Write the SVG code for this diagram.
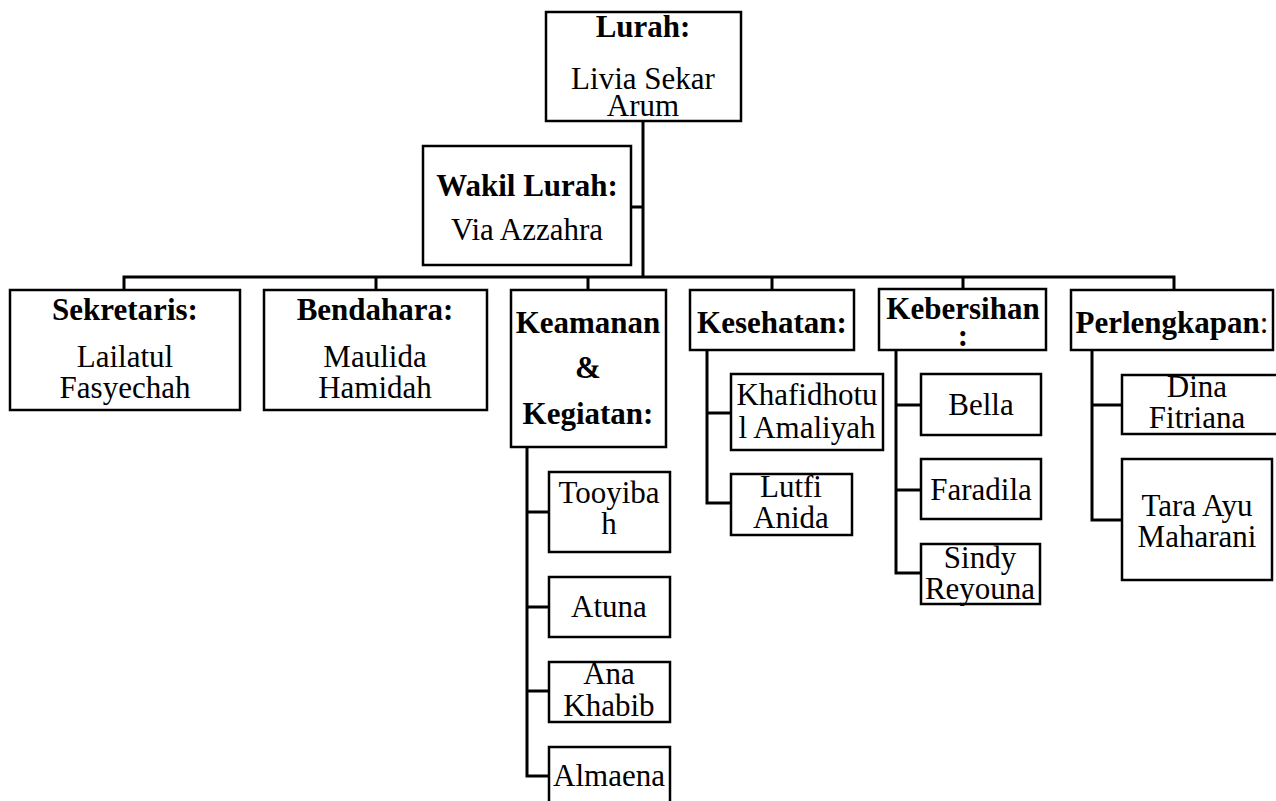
<svg xmlns="http://www.w3.org/2000/svg" width="1276" height="801" viewBox="0 0 1276 801">
<style>
.box{fill:#fff;stroke:#000;stroke-width:2.5}
.ln{fill:none;stroke:#000;stroke-width:3}
text{font-family:"Liberation Serif","Times New Roman",serif;font-size:31px;fill:#000;text-anchor:middle}
.b{font-weight:bold}
</style>
<rect width="1276" height="801" fill="#fff"/>
<g id="connectors">
<path class="ln" d="M643,121V277M631,207H643M124,290V277H1174V290M376,277V290M588,277V290M772,277V290M963,277V290"/>
<path class="ln" d="M527,447V776H549M527,512H549M527,607H549M527,691H549"/>
<path class="ln" d="M707,350V503H731M707,413H731"/>
<path class="ln" d="M896,350V573H921M896,405H921M896,490H921"/>
<path class="ln" d="M1092,350V520H1122M1092,405H1122"/>
</g>
<g id="lurah"><rect class="box" x="546" y="12" width="195" height="109"/>
<text class="b" x="643" y="37">Lurah:</text><text x="643" y="89">Livia Sekar</text><text x="643" y="116">Arum</text></g>
<g id="wakil"><rect class="box" x="423" y="146" width="208" height="119"/>
<text class="b" x="527" y="196">Wakil Lurah:</text><text x="527" y="240">Via Azzahra</text></g>
<g id="sekretaris"><rect class="box" x="10" y="290" width="230" height="120"/>
<text class="b" x="125" y="320">Sekretaris:</text><text x="125" y="367">Lailatul</text><text x="125" y="398">Fasyechah</text></g>
<g id="bendahara"><rect class="box" x="264" y="290" width="223" height="120"/>
<text class="b" x="375" y="320">Bendahara:</text><text x="375" y="367">Maulida</text><text x="375" y="398">Hamidah</text></g>
<g id="keamanan"><rect class="box" x="511" y="290" width="155" height="157"/>
<text class="b" x="588" y="333">Keamanan</text><text class="b" x="588" y="378">&amp;</text><text class="b" x="588" y="424">Kegiatan:</text></g>
<g id="kesehatan"><rect class="box" x="690" y="290" width="164" height="60"/>
<text class="b" x="772" y="333">Kesehatan:</text></g>
<g id="kebersihan"><rect class="box" x="879" y="289" width="167" height="61"/>
<text class="b" x="963" y="319">Kebersihan</text><text class="b" x="963" y="346">:</text></g>
<g id="perlengkapan"><rect class="box" x="1071" y="290" width="202" height="60"/>
<text x="1172" y="333"><tspan class="b">Perlengkapan</tspan>:</text></g>
<g id="khafidhotul"><rect class="box" x="731" y="374" width="152" height="76"/>
<text x="807" y="405">Khafidhotu</text><text x="807" y="438">l Amaliyah</text></g>
<g id="lutfi"><rect class="box" x="731" y="474" width="121" height="61"/>
<text x="791" y="497">Lutfi</text><text x="791" y="528">Anida</text></g>
<g id="bella"><rect class="box" x="921" y="374" width="120" height="61"/>
<text x="981" y="415">Bella</text></g>
<g id="faradila"><rect class="box" x="921" y="459" width="120" height="60"/>
<text x="981" y="500">Faradila</text></g>
<g id="sindy"><rect class="box" x="921" y="544" width="119" height="60"/>
<text x="980" y="568">Sindy</text><text x="980" y="599">Reyouna</text></g>
<g id="dina"><rect class="box" x="1122" y="375" width="170" height="59"/>
<text x="1197" y="397">Dina</text><text x="1197" y="428">Fitriana</text></g>
<g id="tara"><rect class="box" x="1122" y="459" width="150" height="121"/>
<text x="1197" y="516">Tara Ayu</text><text x="1197" y="547">Maharani</text></g>
<g id="tooyibah"><rect class="box" x="549" y="472" width="121" height="80"/>
<text x="609" y="503">Tooyiba</text><text x="609" y="534">h</text></g>
<g id="atuna"><rect class="box" x="549" y="577" width="121" height="60"/>
<text x="609" y="617">Atuna</text></g>
<g id="anakhabib"><rect class="box" x="549" y="662" width="121" height="60"/>
<text x="609" y="684">Ana</text><text x="609" y="716">Khabib</text></g>
<g id="almaena"><rect class="box" x="549" y="747" width="121" height="70"/>
<text x="609" y="786">Almaena</text></g>
</svg>
